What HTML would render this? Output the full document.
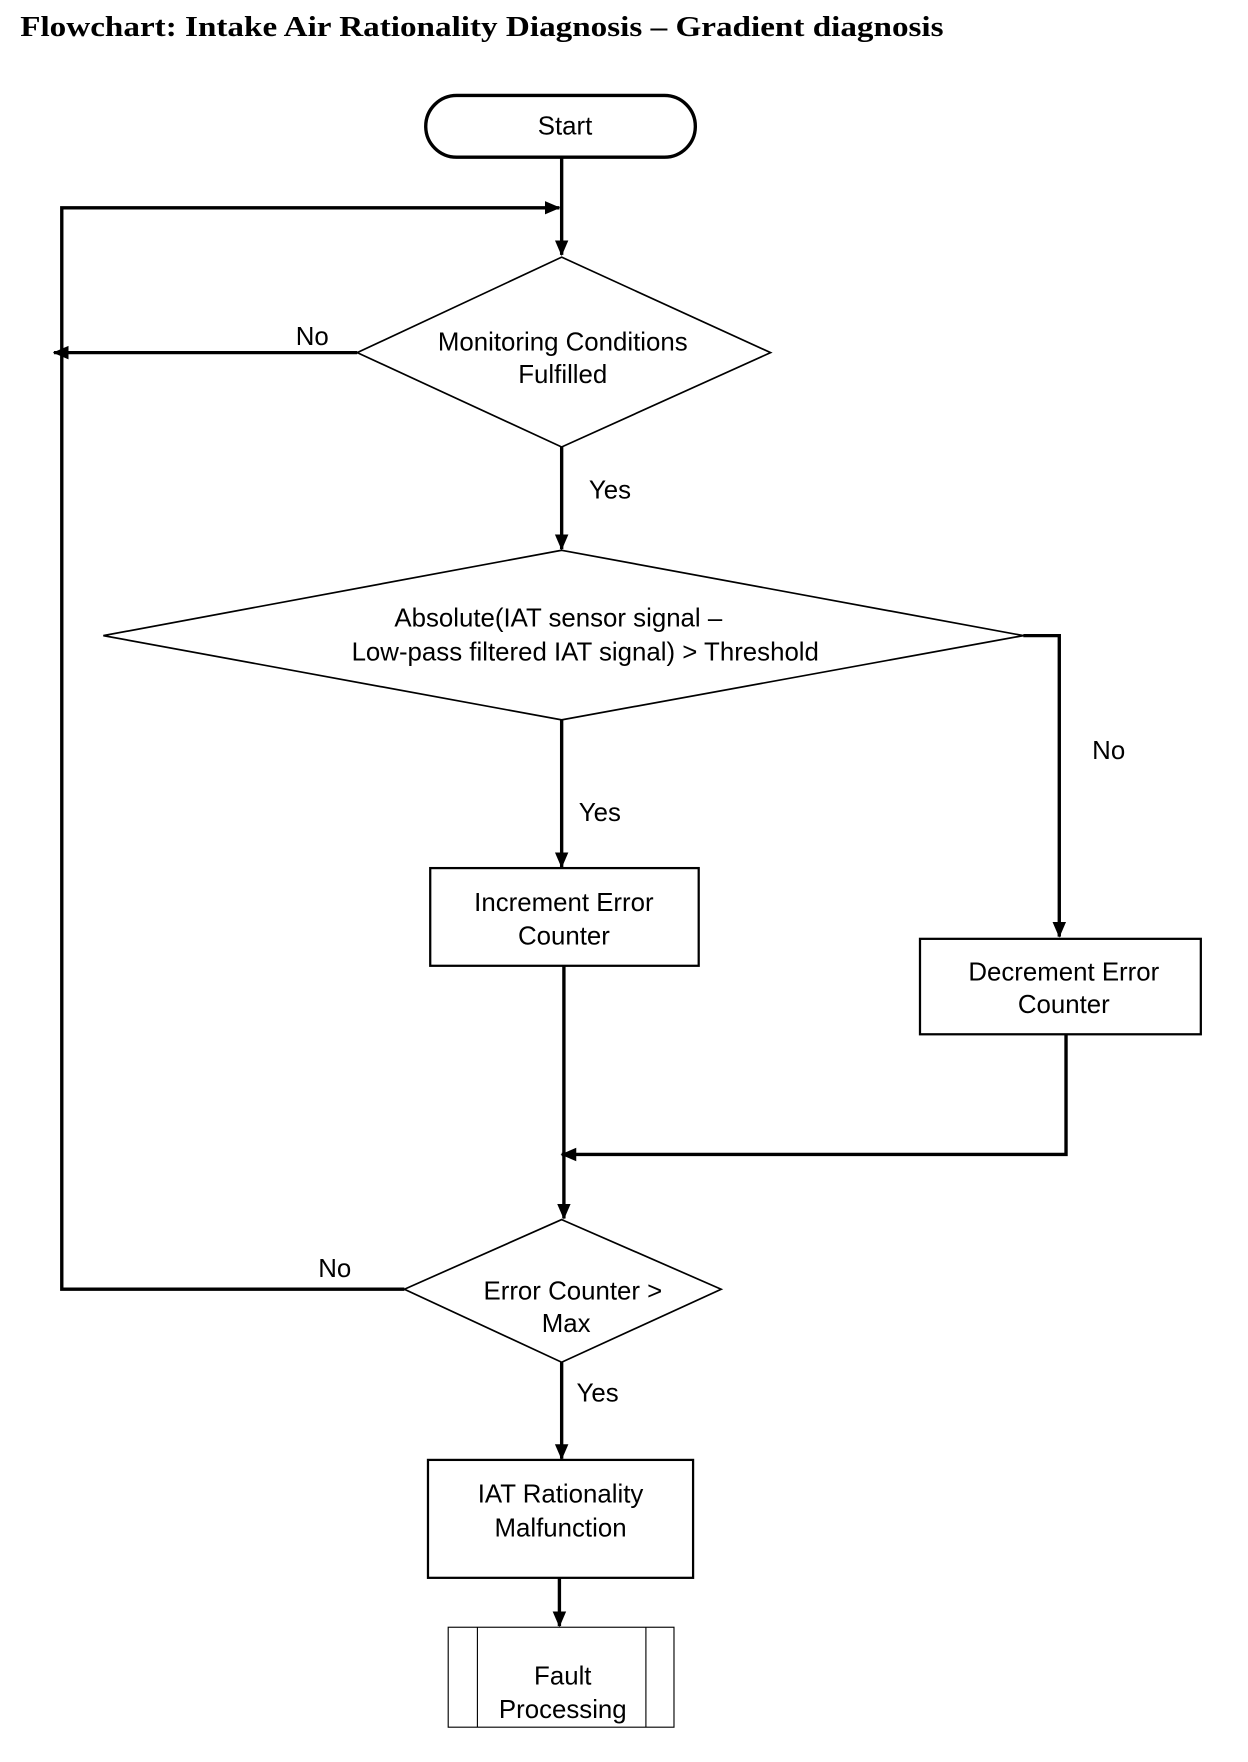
<!DOCTYPE html>
<html><head><style>html,body{margin:0;padding:0;background:#fff;}svg{display:block}</style></head>
<body>
<svg width="1248" height="1762" viewBox="0 0 1111 1569" preserveAspectRatio="none" xmlns="http://www.w3.org/2000/svg">
<defs>
<marker id="b" markerWidth="14" markerHeight="14" refX="13" refY="7" orient="auto" markerUnits="userSpaceOnUse"><path d="M0,1 L14,7 L0,13 z" fill="#000"/></marker></defs>
<text x="18" y="32" font-family="Liberation Serif,serif" font-weight="bold" font-size="25" textLength="822" lengthAdjust="spacingAndGlyphs">Flowchart: Intake Air Rationality Diagnosis – Gradient diagnosis</text>
<g fill="none" stroke="#000" stroke-width="3">
<rect x="379" y="85" width="240" height="55" rx="27.5"/>
<polygon points="500,229 686,314 500,398 318,314" stroke-width="1.5"/>
<polygon points="500,490 911,566 500,641 92,566" stroke-width="1.5"/>
<polygon points="500,1086 642,1148 500,1213 360,1148" stroke-width="1.5"/>
<rect x="383" y="773" width="239" height="87" stroke-width="2"/>
<rect x="819" y="836" width="250" height="85" stroke-width="2"/>
<rect x="381" y="1300" width="236" height="105" stroke-width="2"/>
<rect x="399" y="1449" width="201" height="89" stroke-width="1"/>
<line x1="425" y1="1449" x2="425" y2="1538" stroke-width="1"/>
<line x1="575" y1="1449" x2="575" y2="1538" stroke-width="1"/>
<path d="M500,140 V227" marker-end="url(#b)"/>
<path d="M360,1148 H55 V185 H498" marker-end="url(#b)"/>
<path d="M318,314 H48" marker-end="url(#b)"/>
<path d="M500,398 V489" marker-end="url(#b)"/>
<path d="M911,566 H943 V834" marker-end="url(#b)"/>
<path d="M500,641 V772" marker-end="url(#b)"/>
<path d="M502,860 V1085" marker-end="url(#b)"/>
<path d="M949,921 V1028 H500" marker-end="url(#b)"/>
<path d="M500,1213 V1299" marker-end="url(#b)"/>
<path d="M498,1405 V1448" marker-end="url(#b)"/>
</g>
<g font-family="Liberation Sans,sans-serif" font-size="23" text-anchor="middle">
<text x="503" y="120">Start</text>
<text x="501" y="312">Monitoring Conditions</text><text x="501" y="341">Fulfilled</text>
<text x="278" y="307">No</text>
<text x="543" y="444">Yes</text>
<text x="497" y="558">Absolute(IAT sensor signal –</text><text x="521" y="588">Low-pass filtered IAT signal) &gt; Threshold</text>
<text x="987" y="676">No</text>
<text x="534" y="731">Yes</text>
<text x="502" y="811">Increment Error</text><text x="502" y="841">Counter</text>
<text x="947" y="873">Decrement Error</text><text x="947" y="902">Counter</text>
<text x="510" y="1157">Error Counter &gt;</text><text x="504" y="1186">Max</text>
<text x="298" y="1137">No</text>
<text x="532" y="1248">Yes</text>
<text x="499" y="1338">IAT Rationality</text><text x="499" y="1368">Malfunction</text>
<text x="501" y="1500">Fault</text><text x="501" y="1530">Processing</text>
</g>
</svg>
</body></html>
